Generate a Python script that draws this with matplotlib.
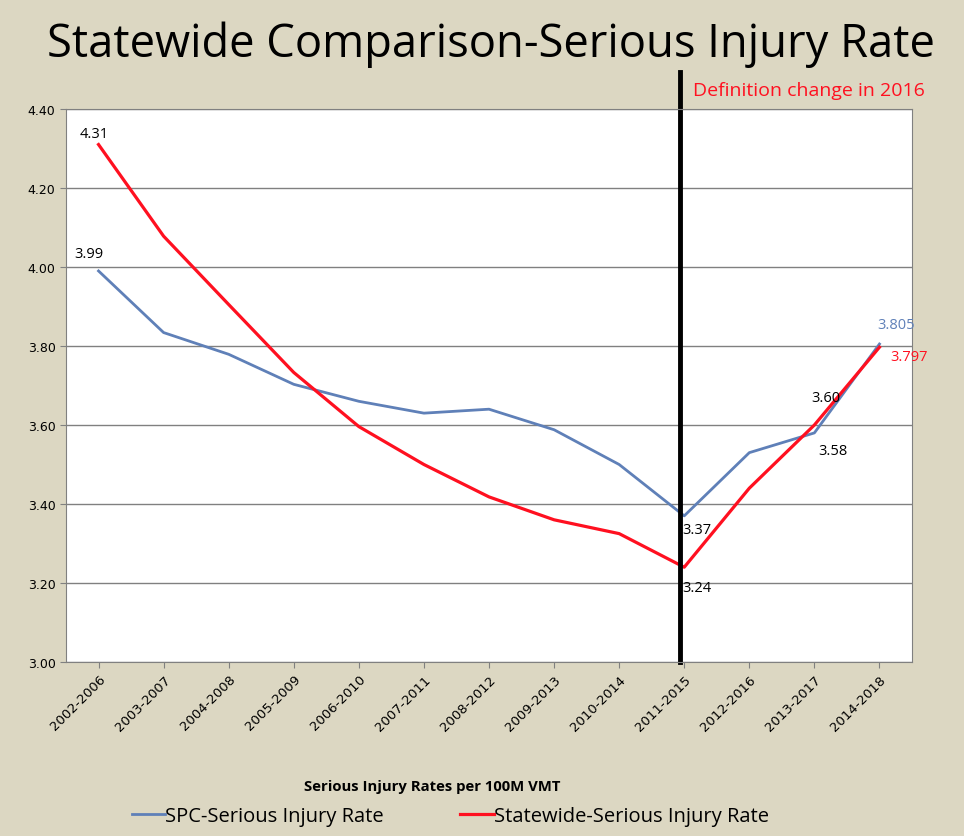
import numpy as np
import matplotlib.pyplot as plt

periods = ['2002-2006', '2003-2007', '2004-2008', '2005-2009', '2006-2010', '2007-2011',
           '2008-2012', '2009-2013', '2010-2014', '2011-2015', '2012-2016', '2013-2017', '2014-2018']
spc = [3.99, 3.834, 3.779, 3.703, 3.66, 3.63, 3.64, 3.588, 3.50, 3.37, 3.53, 3.58, 3.805]
statewide = [4.31, 4.078, 3.905, 3.733, 3.596, 3.50, 3.418, 3.36, 3.325, 3.24, 3.44, 3.60, 3.797]

bg = '#dcd7c2'
blue = '#5f80b8'
red = '#ff1020'

W, H = 964, 837
fig = plt.figure(figsize=(W / 100, H / 100), dpi=100, facecolor=bg)
ax = fig.add_axes([66 / W, 1 - 663 / H, (912 - 66) / W, (663 - 110) / H])
ax.set_facecolor('white')

x = np.arange(len(periods))
ax.plot(x, spc, color=blue, lw=2, label='SPC-Serious Injury Rate')
ax.plot(x, statewide, color=red, lw=2.3, label='Statewide-Serious Injury Rate')

ax.set_xlim(-0.5, len(periods) - 0.5)
ax.set_ylim(3.0, 4.4)
yt = np.arange(3.0, 4.41, 0.2)
ax.set_yticks(yt)
ax.set_yticklabels(['%.2f' % v for v in yt], fontsize=9)
ax.set_xticks(x)
ax.set_xticklabels(periods, rotation=45, ha='right', rotation_mode='anchor', fontsize=9.5)
ax.tick_params(axis='both', length=4, color='#808080')
ax.grid(axis='y', color='#808080', lw=1)
ax.set_axisbelow(True)
for s in ax.spines.values():
    s.set_color('#808080')

# definition change line
ax.plot([8.93, 8.93], [3.0, 4.494], color='black', lw=3.5, clip_on=False)
ax.text(9.13, 4.448, 'Definition change in 2016', color=red, fontsize=14, family='Open Sans', va='center')

# data labels
lab = dict(fontsize=10.5, family='Open Sans', ha='center', va='center')
ax.text(-0.07, 4.339, '4.31', **lab)
ax.text(-0.146, 4.035, '3.99', **lab)
ax.text(9.19, 3.335, '3.37', **lab)
ax.text(9.19, 3.188, '3.24', **lab)
ax.text(11.18, 3.670, '3.60', **lab)
ax.text(11.28, 3.535, '3.58', **lab)
ax.text(12.25, 3.855, '3.805', color=blue, **lab)
ax.text(12.45, 3.774, '3.797', color=red, **lab)

fig.text(491 / W, 1 - 45 / H, 'Statewide Comparison-Serious Injury Rate', ha='center', va='center',
         fontsize=32.7, family='Open Sans')
fig.text(432 / W, 1 - 787 / H, 'Serious Injury Rates per 100M VMT', ha='center', va='center',
         fontsize=10.7, fontweight='bold', family='Open Sans')
fig.legend(loc='center left', bbox_to_anchor=(132 / W, 1 - 817 / H), ncol=2, frameon=False, borderpad=0,
           borderaxespad=0, prop={'family': 'Open Sans', 'size': 14.5}, handlelength=1.65,
           handletextpad=0.0, columnspacing=3.8)

fig.savefig('out.png', dpi=100, facecolor=bg)
